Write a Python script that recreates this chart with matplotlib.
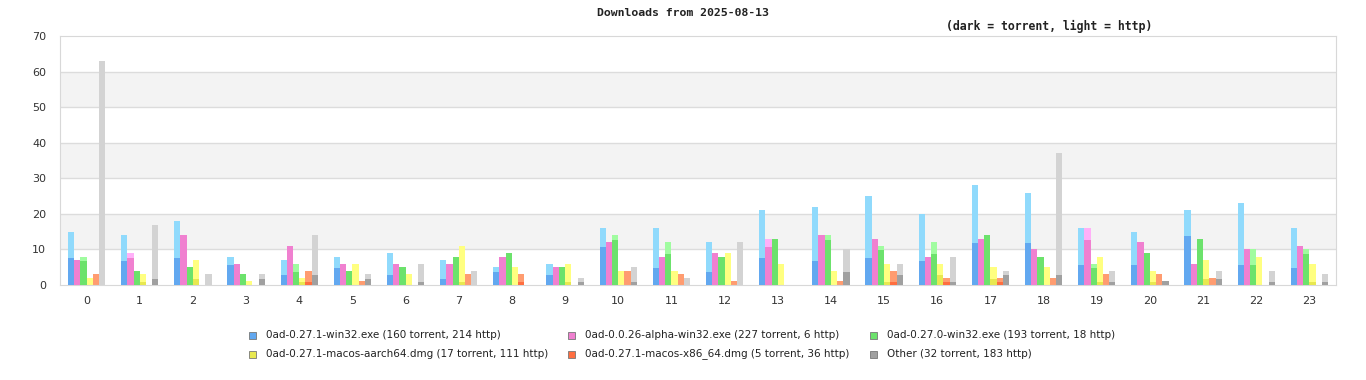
import numpy as np
import matplotlib
matplotlib.use('Agg')
import matplotlib.pyplot as plt
from matplotlib.patches import Rectangle

hours = list(range(24))

# dark part = torrent, full bar = torrent + http
win271_torrent = [7.6, 6.75, 7.6, 5.6, 2.8, 4.8, 2.8, 1.7, 3.65, 2.8, 10.7, 4.8,
                  3.65, 7.6, 6.75, 7.6, 6.75, 11.8, 11.8, 5.6, 5.6, 13.8, 5.6, 4.8]
win271_total = [15, 14, 18, 8, 7, 8, 9, 7, 5, 6, 16, 16, 12, 21, 22, 25, 20, 28, 26, 16, 15, 21, 23, 16]

alpha26_torrent = [7, 7.6, 14, 6, 11, 6, 6, 6, 8, 5, 12, 8, 9, 10.7, 14, 13, 8, 13, 10, 12.65, 12, 6, 10, 11]
alpha26_total = [7, 9, 14, 6, 11, 6, 6, 6, 8, 5, 12, 8, 9, 13, 14, 13, 8, 13, 10, 16, 12, 6, 10, 11]

win270_torrent = [6.75, 4, 5, 3, 3.65, 4, 5, 8, 9, 5, 12.65, 8.7, 8, 13, 12.65, 9.8, 8.7, 14, 8, 4.8, 9, 13, 5.6, 8.7]
win270_total = [8, 4, 5, 3, 6, 4, 5, 8, 9, 5, 14, 12, 8, 13, 14, 11, 12, 14, 8, 6, 9, 13, 10, 10]

aarch64_torrent = [0, 0.84, 1.7, 0, 0.84, 0, 0, 0.84, 0, 0.84, 0, 0, 0, 0, 0, 0.84, 2.8, 1.7, 0, 0.84, 0.84, 1.7, 0, 0.84]
aarch64_total = [2, 3, 7, 1, 2, 6, 3, 11, 5, 6, 4, 4, 9, 6, 4, 6, 6, 5, 5, 8, 4, 7, 8, 6]

x86_torrent = [0, 0, 0, 0, 0.84, 0, 0, 0, 0.84, 0, 0, 0, 0, 0, 0, 0.84, 0.84, 0.84, 0, 0, 0, 0, 0, 0]
x86_total = [3, 0, 0, 0, 4, 1, 0, 3, 3, 0, 4, 3, 1, 0, 1, 4, 2, 2, 2, 3, 3, 2, 0, 0]

other_torrent = [0, 1.7, 0, 1.7, 2.8, 1.7, 0.84, 0, 0, 0.84, 0.84, 0, 0, 0, 3.65, 2.8, 0.84, 2.8, 2.8, 0.84, 1.1, 1.7, 0.84, 0.84]
other_total = [63, 17, 3, 3, 14, 3, 6, 4, 0, 2, 5, 2, 12, 0, 10, 6, 8, 4, 37, 4, 1, 4, 4, 3]

labels = ['0ad-0.27.1-win32.exe (160 torrent, 214 http)',
          '0ad-0.0.26-alpha-win32.exe (227 torrent, 6 http)',
          '0ad-0.27.0-win32.exe (193 torrent, 18 http)',
          '0ad-0.27.1-macos-aarch64.dmg (17 torrent, 111 http)',
          '0ad-0.27.1-macos-x86_64.dmg (5 torrent, 36 http)',
          'Other (32 torrent, 183 http)']
dark_colors = ['#62a8f0', '#f080d0', '#6ce26c', '#e8e850', '#ff6e40', '#a0a0a0']
light_colors = ['#90dafc', '#ffb0f8', '#a0fca0', '#ffff80', '#ff9c70', '#d3d3d3']

torrents = [win271_torrent, alpha26_torrent, win270_torrent, aarch64_torrent, x86_torrent, other_torrent]
totals = [win271_total, alpha26_total, win270_total, aarch64_total, x86_total, other_total]

fig = plt.figure(figsize=(13.66, 3.8), dpi=100)
ax = fig.add_axes([60 / 1366, 1 - 285 / 380, 1276 / 1366, 249 / 380])

# alternating background bands
for lo in range(10, 70, 20):
    ax.axhspan(lo, lo + 10, color='#f3f3f3', zorder=0, lw=0)
for y in range(10, 70, 10):
    ax.axhline(y, color='#dcdcdc', lw=1, zorder=1)

x = np.array(hours)
w = 0.117
for i in range(6):
    pos = x + (i - 2.5) * w
    ax.bar(pos, totals[i], width=w, color=light_colors[i], zorder=2, lw=0)
    ax.bar(pos, torrents[i], width=w, color=dark_colors[i], zorder=3, lw=0)

ax.set_xlim(-0.5, 23.5)
ax.set_ylim(0, 70)
ax.set_xticks(hours)
ax.set_yticks(range(0, 71, 10))
ax.tick_params(length=0, labelsize=8, colors='#333333')
ax.tick_params(axis='y', pad=10)
ax.tick_params(axis='x', pad=8)
for s in ax.spines.values():
    s.set_color('#d8d8d8')

fig.text(683 / 1366, 1 - 13 / 380, 'Downloads from 2025-08-13', ha='center', va='center',
         family='DejaVu Sans Mono', fontsize=8.25, weight='bold', color='#222222')
fig.text(1152 / 1366, 1 - 26 / 380, '(dark = torrent, light = http)', ha='right', va='center',
         family='DejaVu Sans Mono', fontsize=8.3, weight='bold', color='#222222')

col_x = [249, 568, 870]
row_y = [335, 354]
for i, lab in enumerate(labels):
    cx = col_x[i % 3]
    cy = row_y[i // 3]
    fig.patches.append(Rectangle((cx / 1366, 1 - (cy + 4) / 380), 7 / 1366, 7 / 380,
                                 transform=fig.transFigure, facecolor=dark_colors[i],
                                 edgecolor='#777777', lw=0.6))
    fig.text((cx + 17) / 1366, 1 - cy / 380, lab, ha='left', va='center',
             fontsize=7.5, color='#222222')

fig.savefig('out.png', dpi=100)
